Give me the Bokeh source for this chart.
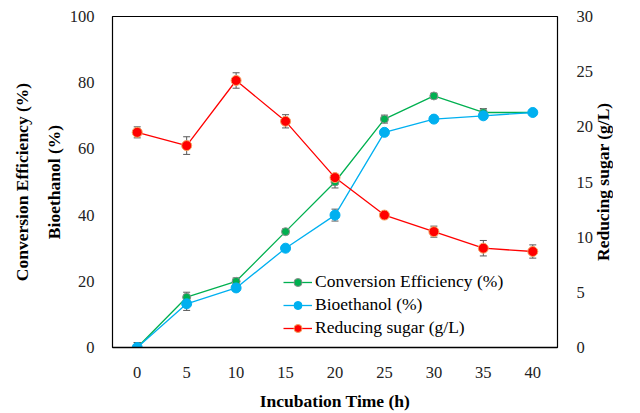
from bokeh.plotting import figure
from bokeh.layouts import row
from bokeh.models import (Range1d, LinearAxis, FixedTicker, ColumnDataSource,
                          Whisker, TeeHead, Legend, LegendItem, Div)
from bokeh.embed import file_html
from bokeh.resources import INLINE

# Incubation time (h)
time_h = [0, 5, 10, 15, 20, 25, 30, 35, 40]

# Conversion efficiency (%) and its error
conversion = [0, 15.2, 20, 35, 50, 69, 76, 71, 71]
conversion_err = [1.5, 1.5, 1.0, 0.8, 1.8, 1.2, 0.8, 1.2, 0.8]

# Bioethanol (%) and its error
bioethanol = [0, 13.2, 18, 30, 40, 65, 69, 70, 71]
bioethanol_err = [1.5, 2.0, 1.0, 0.8, 1.8, 0.8, 0.8, 1.0, 0.5]

# Reducing sugar (g/L) and its error
sugar = [19.5, 18.3, 24.2, 20.5, 15.4, 12.0, 10.5, 9.0, 8.7]
sugar_err = [0.5, 0.8, 0.7, 0.6, 0.3, 0.0, 0.5, 0.7, 0.6]

x_ticks = [0, 5, 10, 15, 20, 25, 30, 35, 40]
left_ticks = [0, 20, 40, 60, 80, 100]
right_ticks = [0, 5, 10, 15, 20, 25, 30]

FONT = "Liberation Serif"
TICK_SIZE = "16.5px"
TITLE_SIZE = "17.5px"
GREEN = "#00B050"
BLUE = "#00B0F0"
RED = "#FF0000"
ERR = "#595959"

p = figure(width=597, height=413, output_backend="svg", toolbar_location=None,
           x_range=Range1d(-2.5, 42.5), y_range=Range1d(0, 100),
           min_border_left=112, min_border_right=40,
           min_border_top=16, min_border_bottom=66)
p.extra_y_ranges = {"sugar": Range1d(0, 30)}
p.xgrid.visible = False
p.ygrid.visible = False
p.outline_line_color = "black"
p.outline_line_width = 1.2
p.background_fill_color = "white"
p.border_fill_color = "white"


def style_axis(ax):
    ax.major_tick_line_color = None
    ax.minor_tick_line_color = None
    ax.major_label_text_font = FONT
    ax.major_label_text_font_size = TICK_SIZE
    ax.major_label_text_color = "#222222"
    ax.axis_label_text_font = FONT
    ax.axis_label_text_font_size = TITLE_SIZE
    ax.axis_label_text_font_style = "bold"
    ax.axis_label_text_color = "black"


# bottom axis
xa = p.xaxis[0]
style_axis(xa)
xa.ticker = FixedTicker(ticks=x_ticks)
xa.axis_label = "Incubation Time (h)"
xa.axis_line_color = "black"
xa.axis_line_width = 1.5
xa.major_label_standoff = 13
xa.axis_label_standoff = 10

# left axis (percent)
ya = p.yaxis[0]
style_axis(ya)
ya.ticker = FixedTicker(ticks=left_ticks)
ya.axis_label = "Bioethanol (%)"
ya.axis_line_color = None
ya.major_label_standoff = 12
ya.axis_label_standoff = 3

# outer left title
ya2 = LinearAxis(ticker=FixedTicker(ticks=[]))
style_axis(ya2)
ya2.axis_label = "Conversion Efficiency (%)"
ya2.axis_line_color = None
ya2.major_tick_out = 0
ya2.major_label_text_font_size = "0px"
ya2.axis_label_standoff = 9
p.add_layout(ya2, "left")

# right axis (g/L)
yr = LinearAxis(y_range_name="sugar", ticker=FixedTicker(ticks=right_ticks))
style_axis(yr)
yr.axis_line_color = None
yr.major_label_standoff = 13
p.add_layout(yr, "right")

src = ColumnDataSource(dict(
    t=time_h,
    ce=conversion, ce_lo=[v - e for v, e in zip(conversion, conversion_err)],
    ce_hi=[v + e for v, e in zip(conversion, conversion_err)],
    be=bioethanol, be_lo=[v - e for v, e in zip(bioethanol, bioethanol_err)],
    be_hi=[v + e for v, e in zip(bioethanol, bioethanol_err)],
    rs=sugar, rs_lo=[v - e for v, e in zip(sugar, sugar_err)],
    rs_hi=[v + e for v, e in zip(sugar, sugar_err)],
))


def add_whisker(lo, hi, range_name="default"):
    w = Whisker(source=src, base="t", lower=lo, upper=hi,
                line_color=ERR, line_width=1,
                upper_head=TeeHead(size=7, line_color=ERR, line_width=1),
                lower_head=TeeHead(size=7, line_color=ERR, line_width=1))
    if range_name != "default":
        w.y_range_name = range_name
    p.add_layout(w)


# lines
l_ce = p.line("t", "ce", source=src, line_color=GREEN, line_width=1.3)
l_be = p.line("t", "be", source=src, line_color=BLUE, line_width=1.3)
l_rs = p.line("t", "rs", source=src, line_color=RED, line_width=1.3,
              y_range_name="sugar")

# error bars
add_whisker("ce_lo", "ce_hi")
add_whisker("be_lo", "be_hi")
add_whisker("rs_lo", "rs_hi", "sugar")

# markers
m_ce = p.scatter("t", "ce", source=src, size=8, fill_color=GREEN,
                 line_color="#8C8C8C", line_width=1)
m_be = p.scatter("t", "be", source=src, size=10, fill_color=BLUE,
                 line_color=BLUE, line_width=1)
m_rs = p.scatter("t", "rs", source=src, size=10, fill_color=RED,
                 line_color="#F4A460", line_width=1, y_range_name="sugar")

legend = Legend(items=[
    LegendItem(label="Conversion Efficiency (%)", renderers=[l_ce, m_ce]),
    LegendItem(label="Bioethanol (%)", renderers=[l_be, m_be]),
    LegendItem(label="Reducing sugar (g/L)", renderers=[l_rs, m_rs]),
], location=(171, 9))
legend.border_line_color = None
legend.background_fill_alpha = 0
legend.padding = 0
legend.margin = 0
legend.spacing = 2
legend.glyph_width = 29
legend.glyph_height = 20
legend.label_height = 20
legend.label_standoff = 3
legend.label_text_font = FONT
legend.label_text_font_size = TITLE_SIZE
legend.label_text_color = "black"
p.add_layout(legend)

# right axis title, reading bottom to top, beside the plot
right_title = Div(
    text=("<div style=\"writing-mode: vertical-rl; transform: rotate(180deg); "
          "height: 331px; margin-top: 16px; margin-left: -4px; text-align: center; "
          "font-family: 'Liberation Serif'; font-weight: bold; font-size: 17.5px; "
          "line-height: 20px; color: black; white-space: nowrap;\">"
          "Reducing sugar (g/L)</div>"),
    width=43, height=413, margin=0)

layout = row(p, right_title, spacing=0)

open("out.html", "w").write(file_html(layout, INLINE))
